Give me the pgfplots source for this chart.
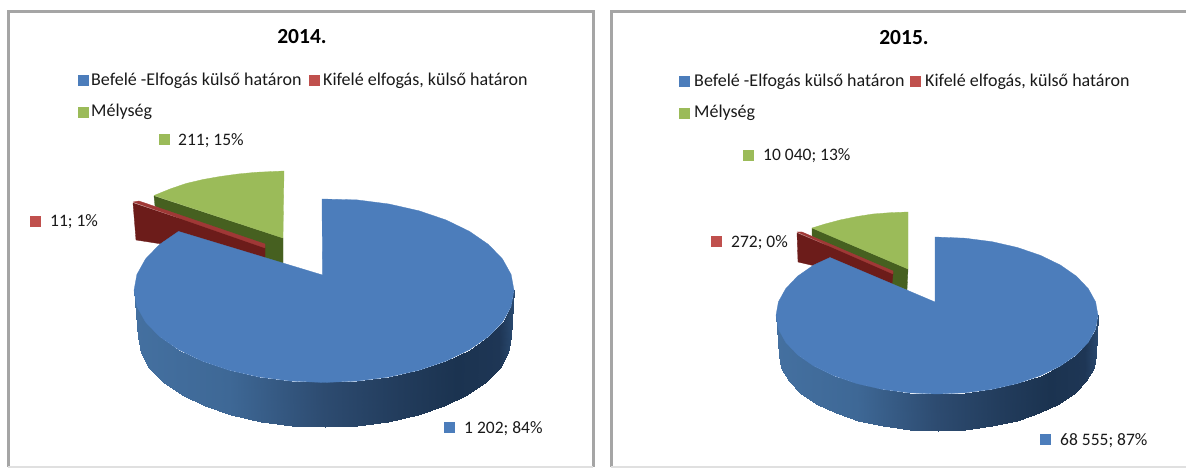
\documentclass[border=0pt]{standalone}
\usepackage{fontspec}
\setmainfont{Carlito}
\usepackage{pgfplots}
\pgfplotsset{compat=1.18}

\definecolor{pieblue}{RGB}{76,125,187}
\definecolor{piered}{RGB}{192,80,77}
\definecolor{piegreen}{RGB}{155,187,89}
\definecolor{redface}{RGB}{160,56,54}
\definecolor{redside}{RGB}{108,28,26}
\definecolor{greenside}{RGB}{70,96,32}
\definecolor{framegray}{RGB}{165,165,165}

\pgfplotsset{
  colormap={pieside}{rgb255(0pt)=(68,112,160); rgb255(25pt)=(62,104,150); rgb255(50pt)=(45,75,112); rgb255(70pt)=(34,60,92); rgb255(85pt)=(27,51,80); rgb255(96pt)=(30,54,85); rgb255(100pt)=(42,74,112)},
  panel/.style={hide axis, scale only axis, clip=false, y dir=reverse, ymin=0, ymax=470, height=470pt, anchor=south west},
  wedge/.style={no marks, fill=#1, draw=#1, line width=0.3pt, line join=round},
  swatch/.style={only marks, mark=square*, mark size=4.9pt, mark options={fill=#1, draw=#1}},
  side/.style={surf, shader=interp, colormap name=pieside, point meta=x, mesh/cols=19}
}
\tikzset{
  leg/.style={anchor=base west, inner sep=0pt, font=\fontsize{18}{18}\selectfont, text=black!90},
  txt/.style={anchor=base west, inner sep=0pt, font=\fontsize{17.5}{18}\selectfont, text=black!90},
  ttl/.style={anchor=base, inner sep=0pt, font=\fontsize{21.5}{22}\selectfont\bfseries, text=black}
}

\begin{document}
\begin{tikzpicture}
\path[use as bounding box] (0,0) rectangle (1186pt,470pt);

% 2014
\begin{axis}[panel, at={(0,0)}, width=600pt, xmin=0, xmax=600, point meta min=134, point meta max=514]
\addplot[no marks, draw=framegray, line width=3pt] coordinates {(8,467) (8,12) (593,12) (593,467)};
\addplot[no marks, draw=black!12, line width=1.5pt] coordinates {(8,467) (593,467)};

% legend and labels
\addplot[swatch=pieblue] coordinates {(83,80)};
\addplot[swatch=piered] coordinates {(314,80)};
\addplot[swatch=piegreen] coordinates {(83,112)};
\addplot[swatch=piegreen] coordinates {(164,139)};
\addplot[swatch=piered] coordinates {(35,221)};
\addplot[swatch=pieblue] coordinates {(449,427)};

% Melyseg slice
\addplot[wedge=greenside] coordinates {(154,196) (283,238) (283,266) (265,262) (155,206)} -- cycle;
\addplot[wedge=piegreen] coordinates {(154,195.5) (170,189) (186,183.5) (203,179.5) (220,176.5) (238,174) (256,172.3) (284,171) (283,238)} -- cycle;

% Kifele slice
\addplot[wedge=redside] coordinates {(133,203) (265,247) (265,260) (136,240)} -- cycle;
\addplot[wedge=redface] coordinates {(133,202) (139,201) (265,244) (265,248)} -- cycle;

% Befele slice, side then top
\addplot[side] coordinates {
(514,290.5) (511.1,306.5) (502.5,322) (488.5,336.5) (469.5,349.6) (446.1,361) (419,370.2) (389,377) (357,381.1) (324,382.5) (291,381.1) (259,377) (229,370.2) (201.9,361) (178.5,349.6) (159.5,336.5) (145.5,322) (136.9,306.5) (134,290.5)

(511,337) (508.2,352.6) (499.8,367.8) (486,382) (467.4,394.9) (444.4,405.9) (417.8,414.9) (388.3,421.6) (356.9,425.6) (324.5,427) (292.1,425.6) (260.7,421.6) (231.2,414.9) (204.6,405.9) (181.6,394.9) (163,382) (149.2,367.8) (140.8,352.6) (138,337)
};
\addplot[wedge=pieblue] coordinates {
(322.5,275) (322,199) (357,199.9) (389,204) (419,210.8) (446.1,220) (469.5,231.4) (488.5,244.5) (502.5,259) (511.1,274.5) (514,290.5)
(511.1,306.5) (502.5,322) (488.5,336.5) (469.5,349.6) (446.1,361) (419,370.2) (389,377) (357,381.1) (324,382.5)
(291,381.1) (259,377) (229,370.2) (201.9,361) (178.5,349.6) (159.5,336.5) (145.5,322) (136.9,306.5) (134,290.5)
(136.9,274.5) (145.5,259) (159.5,244.5) (178.5,231.4)
} -- cycle;

\node[ttl] at (axis cs:302,44) {2014.};
\node[leg] at (axis cs:91,85.5) {Befelé -Elfogás külső határon};
\node[leg] at (axis cs:323,85.5) {Kifelé elfogás, külső határon};
\node[leg] at (axis cs:91,117) {Mélység};
\node[txt] at (axis cs:178,146) {211; 15\%};
\node[txt] at (axis cs:50,227) {11; 1\%};
\node[txt] at (axis cs:464,433) {1 202; 84\%};
\end{axis}

% 2015
\begin{axis}[panel, at={(600pt,0)}, width=586pt, xmin=600, xmax=1186, point meta min=776, point meta max=1098]
\addplot[no marks, draw=framegray, line width=3pt] coordinates {(611,467) (611,12) (1186,12)};
\addplot[no marks, draw=black!12, line width=1.5pt] coordinates {(611,467) (1186,467)};

\addplot[swatch=pieblue] coordinates {(684,81)};
\addplot[swatch=piered] coordinates {(915.5,81)};
\addplot[swatch=piegreen] coordinates {(684,113)};
\addplot[swatch=piegreen] coordinates {(748,155)};
\addplot[swatch=piered] coordinates {(716,241)};
\addplot[swatch=pieblue] coordinates {(1045,439)};

\addplot[wedge=greenside] coordinates {(812,228) (908,269) (907,290) (885,282) (812,236)} -- cycle;
\addplot[wedge=piegreen] coordinates {(812,228) (825,224) (840,220) (857,216.5) (873,214) (890,212.7) (908,212) (908,269)} -- cycle;

\addplot[wedge=redside] coordinates {(797,233) (893,273) (892,284) (798,262)} -- cycle;
\addplot[wedge=redface] coordinates {(797,232) (802,232) (893,271) (893,274)} -- cycle;

\addplot[side] coordinates {
(1098,315.5) (1095.6,329.1) (1088.3,342.3) (1076.4,354.8) (1060.3,366) (1040.5,375.6) (1017.5,383.5) (992.1,389.3) (965,392.8) (937,394) (909,392.8) (881.9,389.3) (856.5,383.5) (833.5,375.6) (813.7,366) (797.6,354.8) (785.7,342.3) (778.4,329.1) (776,315.5)

(1096,355) (1093.6,368.2) (1086.4,381) (1074.8,393) (1058.9,403.9) (1039.4,413.2) (1016.8,420.8) (991.7,426.4) (965,429.8) (937.5,431) (910,429.8) (883.3,426.4) (858.2,420.8) (835.6,413.2) (816.1,403.9) (800.2,393) (788.6,381) (781.4,368.2) (779,355)
};
\addplot[wedge=pieblue] coordinates {
(935,302) (935,237) (965,238.2) (992.1,241.7) (1017.5,247.5) (1040.5,255.4) (1060.3,265) (1076.4,276.2) (1088.3,288.7) (1095.6,301.9) (1098,315.5)
(1095.6,329.1) (1088.3,342.3) (1076.4,354.8) (1060.3,366) (1040.5,375.6) (1017.5,383.5) (992.1,389.3) (965,392.8) (937,394)
(909,392.8) (881.9,389.3) (856.5,383.5) (833.5,375.6) (813.7,366) (797.6,354.8) (785.7,342.3) (778.4,329.1) (776,315.5)
(778.4,301.9) (785.7,288.7) (797.6,276.2) (813.7,265) (830,257.5)
} -- cycle;

\node[ttl] at (axis cs:904,45) {2015.};
\node[leg] at (axis cs:694,86.5) {Befelé -Elfogás külső határon};
\node[leg] at (axis cs:925,86.5) {Kifelé elfogás, külső határon};
\node[leg] at (axis cs:694,118) {Mélység};
\node[txt] at (axis cs:763,161) {10 040; 13\%};
\node[txt] at (axis cs:731,248) {272; 0\%};
\node[txt] at (axis cs:1060,445) {68 555; 87\%};
\end{axis}
\end{tikzpicture}
\end{document}
